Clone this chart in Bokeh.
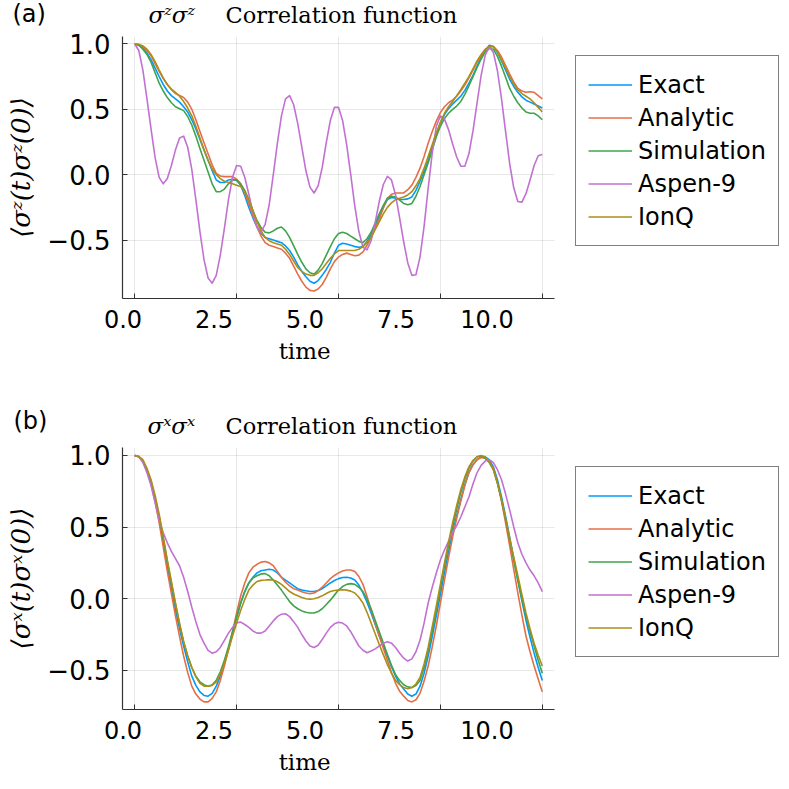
from bokeh.plotting import figure
from bokeh.models import Range1d, FixedTicker, Legend, LegendItem, Label, LinearAxis
from bokeh.layouts import column
from bokeh.embed import file_html
from bokeh.resources import INLINE

# ---------------- data ----------------
time = [0.0, 0.1, 0.2, 0.3, 0.4, 0.5, 0.6, 0.7, 0.8, 0.9,
        1.0, 1.1, 1.2, 1.3, 1.4, 1.5, 1.6, 1.7, 1.8, 1.9,
        2.0, 2.1, 2.2, 2.3, 2.4, 2.5, 2.6, 2.7, 2.8, 2.9,
        3.0, 3.1, 3.2, 3.3, 3.4, 3.5, 3.6, 3.7, 3.8, 3.9,
        4.0, 4.1, 4.2, 4.3, 4.4, 4.5, 4.6, 4.7, 4.8, 4.9,
        5.0, 5.1, 5.2, 5.3, 5.4, 5.5, 5.6, 5.7, 5.8, 5.9,
        6.0, 6.1, 6.2, 6.3, 6.4, 6.5, 6.6, 6.7, 6.8, 6.9,
        7.0, 7.1, 7.2, 7.3, 7.4, 7.5, 7.6, 7.7, 7.8, 7.9,
        8.0, 8.1, 8.2, 8.3, 8.4, 8.5, 8.6, 8.7, 8.8, 8.9,
        9.0, 9.1, 9.2, 9.3, 9.4, 9.5, 9.6, 9.7, 9.8, 9.9, 10.0]

series_names = ["Exact", "Analytic", "Simulation", "Aspen-9", "IonQ"]
series_colors = ["#009AFA", "#E36F47", "#3EA44E", "#C271D2", "#AC8E18"]

x_ticks = [0.0, 2.5, 5.0, 7.5, 10.0]
x_tick_labels = ["0.0", "2.5", "5.0", "7.5", "10.0"]
y_ticks = [-0.5, 0.0, 0.5, 1.0]
y_tick_labels = ["\u22120.5", "0.0", "0.5", "1.0"]
x_title = "time"

# panel (a): sigma^z sigma^z
zz_exact = [1.00, 0.99, 0.97, 0.93, 0.88, 0.815, 0.75, 0.69, 0.64, 0.605,
            0.58, 0.555, 0.52, 0.48, 0.42, 0.35, 0.27, 0.19, 0.11, 0.03,
            -0.04, -0.06, -0.06, -0.04, -0.035, -0.045, -0.08, -0.16, -0.25, -0.33,
            -0.40, -0.45, -0.48, -0.49, -0.50, -0.51, -0.52, -0.545, -0.58, -0.63,
            -0.69, -0.74, -0.78, -0.815, -0.83, -0.81, -0.77, -0.725, -0.67, -0.60,
            -0.54, -0.525, -0.53, -0.54, -0.55, -0.555, -0.55, -0.51, -0.46, -0.39,
            -0.32, -0.25, -0.19, -0.175, -0.18, -0.19, -0.19, -0.185, -0.17, -0.12,
            -0.05, 0.025, 0.11, 0.21, 0.31, 0.395, 0.46, 0.505, 0.54, 0.57,
            0.60, 0.645, 0.70, 0.76, 0.83, 0.895, 0.95, 0.99, 0.98, 0.935,
            0.87, 0.80, 0.73, 0.675, 0.63, 0.595, 0.57, 0.555, 0.54, 0.525, 0.51]
zz_analytic = [1.00, 0.995, 0.98, 0.95, 0.91, 0.85, 0.79, 0.735, 0.69, 0.65,
               0.62, 0.605, 0.59, 0.555, 0.50, 0.42, 0.33, 0.245, 0.16, 0.075,
               0.01, -0.01, -0.015, -0.015, -0.015, -0.035, -0.07, -0.14, -0.22, -0.315,
               -0.40, -0.47, -0.52, -0.54, -0.55, -0.56, -0.57, -0.60, -0.64, -0.70,
               -0.76, -0.815, -0.86, -0.885, -0.89, -0.875, -0.84, -0.785, -0.72, -0.665,
               -0.63, -0.61, -0.60, -0.61, -0.62, -0.615, -0.59, -0.54, -0.48, -0.41,
               -0.34, -0.255, -0.18, -0.15, -0.14, -0.14, -0.14, -0.115, -0.08, -0.02,
               0.05, 0.14, 0.24, 0.33, 0.41, 0.475, 0.52, 0.55, 0.57, 0.60,
               0.64, 0.685, 0.74, 0.80, 0.86, 0.91, 0.95, 0.975, 0.98, 0.95,
               0.90, 0.835, 0.77, 0.71, 0.66, 0.64, 0.63, 0.635, 0.63, 0.605, 0.58]
zz_simulation = [1.00, 0.99, 0.96, 0.92, 0.86, 0.78, 0.70, 0.64, 0.59, 0.55,
                 0.52, 0.505, 0.49, 0.445, 0.38, 0.295, 0.20, 0.11, 0.02, -0.07,
                 -0.13, -0.13, -0.11, -0.07, -0.04, -0.04, -0.07, -0.12, -0.19, -0.275,
                 -0.35, -0.405, -0.44, -0.445, -0.43, -0.41, -0.40, -0.43, -0.48, -0.545,
                 -0.61, -0.67, -0.72, -0.75, -0.76, -0.73, -0.68, -0.615, -0.55, -0.49,
                 -0.45, -0.44, -0.45, -0.47, -0.49, -0.51, -0.52, -0.49, -0.44, -0.37,
                 -0.30, -0.235, -0.18, -0.165, -0.17, -0.195, -0.22, -0.23, -0.22, -0.165,
                 -0.09, 0.0, 0.09, 0.19, 0.29, 0.37, 0.43, 0.47, 0.50, 0.525,
                 0.56, 0.615, 0.68, 0.75, 0.82, 0.885, 0.94, 0.965, 0.96, 0.905,
                 0.83, 0.745, 0.66, 0.60, 0.55, 0.51, 0.48, 0.47, 0.47, 0.45, 0.42]
zz_ionq = [1.00, 0.997, 0.985, 0.96, 0.92, 0.865, 0.80, 0.74, 0.69, 0.655,
           0.63, 0.60, 0.56, 0.51, 0.45, 0.37, 0.28, 0.19, 0.11, 0.045,
           0.00, -0.03, -0.05, -0.06, -0.07, -0.08, -0.09, -0.13, -0.19, -0.275,
           -0.36, -0.43, -0.48, -0.505, -0.52, -0.53, -0.54, -0.57, -0.61, -0.66,
           -0.71, -0.74, -0.76, -0.77, -0.77, -0.75, -0.72, -0.68, -0.64, -0.605,
           -0.58, -0.58, -0.58, -0.58, -0.58, -0.57, -0.55, -0.52, -0.48, -0.42,
           -0.36, -0.30, -0.25, -0.215, -0.19, -0.18, -0.17, -0.155, -0.13, -0.085,
           -0.03, 0.05, 0.14, 0.23, 0.32, 0.40, 0.47, 0.52, 0.56, 0.605,
           0.65, 0.70, 0.75, 0.81, 0.87, 0.92, 0.96, 0.98, 0.98, 0.94,
           0.88, 0.815, 0.75, 0.695, 0.65, 0.62, 0.60, 0.58, 0.55, 0.515, 0.48]
zz_aspen9 = [1.00, 0.95, 0.80, 0.58, 0.35, 0.13, -0.02, -0.07, -0.03, 0.07,
             0.19, 0.28, 0.295, 0.21, 0.04, -0.19, -0.435, -0.65, -0.79, -0.83,
             -0.77, -0.615, -0.41, -0.19, -0.02, 0.07, 0.065, -0.02, -0.15, -0.29,
             -0.40, -0.44, -0.38, -0.23, 0.00, 0.24, 0.45, 0.58, 0.605, 0.535,
             0.39, 0.21, 0.03, -0.095, -0.14, -0.085, 0.055, 0.245, 0.415, 0.515,
             0.515, 0.415, 0.23, 0.00, -0.24, -0.435, -0.555, -0.575, -0.505, -0.365,
             -0.205, -0.075, -0.012, -0.04, -0.155, -0.33, -0.515, -0.675, -0.77, -0.765,
             -0.63, -0.395, -0.105, 0.165, 0.37, 0.45, 0.425, 0.345, 0.235, 0.135,
             0.065, 0.065, 0.16, 0.335, 0.55, 0.76, 0.915, 0.98, 0.935, 0.795,
             0.58, 0.33, 0.085, -0.10, -0.205, -0.21, -0.145, -0.04, 0.07, 0.145, 0.155]

# panel (b): sigma^x sigma^x
xx_exact = [1.00, 0.99, 0.96, 0.895, 0.81, 0.69, 0.55, 0.395, 0.23, 0.075,
            -0.08, -0.21, -0.33, -0.44, -0.54, -0.605, -0.65, -0.675, -0.68, -0.66,
            -0.61, -0.54, -0.45, -0.35, -0.24, -0.13, -0.03, 0.05, 0.11, 0.15,
            0.18, 0.195, 0.20, 0.205, 0.20, 0.18, 0.15, 0.13, 0.11, 0.09,
            0.07, 0.06, 0.055, 0.05, 0.05, 0.057, 0.07, 0.09, 0.11, 0.127,
            0.14, 0.148, 0.15, 0.145, 0.13, 0.095, 0.04, -0.025, -0.10, -0.18,
            -0.26, -0.33, -0.40, -0.475, -0.54, -0.595, -0.63, -0.665, -0.68, -0.665,
            -0.61, -0.52, -0.40, -0.265, -0.12, 0.03, 0.18, 0.325, 0.46, 0.58,
            0.69, 0.795, 0.88, 0.935, 0.97, 0.99, 0.99, 0.97, 0.92, 0.83,
            0.71, 0.575, 0.43, 0.28, 0.13, -0.015, -0.15, -0.27, -0.38, -0.48, -0.57]
xx_analytic = [1.00, 0.99, 0.96, 0.89, 0.80, 0.675, 0.53, 0.36, 0.19, 0.035,
               -0.12, -0.265, -0.40, -0.515, -0.61, -0.665, -0.70, -0.72, -0.72, -0.695,
               -0.65, -0.57, -0.47, -0.355, -0.23, -0.10, 0.02, 0.11, 0.18, 0.22,
               0.24, 0.255, 0.26, 0.25, 0.23, 0.19, 0.15, 0.115, 0.09, 0.07,
               0.06, 0.048, 0.04, 0.035, 0.04, 0.057, 0.08, 0.11, 0.14, 0.162,
               0.18, 0.193, 0.20, 0.20, 0.19, 0.155, 0.10, 0.015, -0.08, -0.17,
               -0.26, -0.345, -0.43, -0.515, -0.59, -0.645, -0.68, -0.71, -0.72, -0.705,
               -0.66, -0.575, -0.47, -0.335, -0.19, -0.03, 0.13, 0.285, 0.43, 0.56,
               0.68, 0.79, 0.88, 0.935, 0.97, 0.985, 0.98, 0.955, 0.91, 0.81,
               0.68, 0.53, 0.37, 0.205, 0.04, -0.115, -0.26, -0.37, -0.47, -0.56, -0.65]
xx_simulation = [1.00, 0.99, 0.96, 0.90, 0.82, 0.70, 0.57, 0.42, 0.26, 0.11,
                 -0.04, -0.18, -0.30, -0.40, -0.48, -0.54, -0.58, -0.60, -0.61, -0.60,
                 -0.57, -0.51, -0.43, -0.335, -0.23, -0.13, -0.03, 0.05, 0.11, 0.145,
                 0.16, 0.173, 0.175, 0.16, 0.13, 0.095, 0.06, 0.02, -0.02, -0.05,
                 -0.07, -0.085, -0.095, -0.10, -0.10, -0.09, -0.07, -0.04, -0.01, 0.025,
                 0.06, 0.085, 0.10, 0.105, 0.10, 0.08, 0.05, -0.005, -0.07, -0.15,
                 -0.23, -0.31, -0.39, -0.465, -0.53, -0.57, -0.60, -0.615, -0.62, -0.605,
                 -0.57, -0.48, -0.36, -0.225, -0.08, 0.075, 0.23, 0.37, 0.50, 0.625,
                 0.74, 0.835, 0.91, 0.96, 0.99, 0.995, 0.98, 0.95, 0.90, 0.805,
                 0.69, 0.555, 0.41, 0.27, 0.13, 0.0, -0.12, -0.23, -0.33, -0.43, -0.52]
xx_ionq = [1.00, 0.993, 0.97, 0.91, 0.83, 0.72, 0.59, 0.435, 0.27, 0.12,
           -0.03, -0.17, -0.30, -0.40, -0.48, -0.545, -0.59, -0.61, -0.61, -0.605,
           -0.58, -0.525, -0.45, -0.36, -0.26, -0.17, -0.08, -0.005, 0.06, 0.095,
           0.12, 0.128, 0.13, 0.133, 0.13, 0.118, 0.10, 0.075, 0.05, 0.033,
           0.02, 0.008, 0.0, -0.003, 0.0, 0.008, 0.02, 0.036, 0.05, 0.057,
           0.06, 0.062, 0.06, 0.053, 0.04, 0.01, -0.03, -0.095, -0.17, -0.245,
           -0.32, -0.39, -0.46, -0.52, -0.57, -0.60, -0.62, -0.628, -0.62, -0.595,
           -0.55, -0.455, -0.34, -0.195, -0.05, 0.10, 0.25, 0.395, 0.53, 0.65,
           0.76, 0.85, 0.92, 0.965, 0.99, 1.0, 0.99, 0.955, 0.90, 0.805,
           0.69, 0.56, 0.42, 0.29, 0.16, 0.03, -0.10, -0.21, -0.31, -0.395, -0.47]
xx_aspen9 = [1.00, 0.99, 0.95, 0.88, 0.79, 0.67, 0.55, 0.46, 0.39, 0.33,
             0.28, 0.23, 0.15, 0.05, -0.06, -0.16, -0.25, -0.31, -0.36, -0.38,
             -0.37, -0.34, -0.29, -0.24, -0.20, -0.17, -0.163, -0.18, -0.20, -0.225,
             -0.24, -0.24, -0.225, -0.19, -0.155, -0.125, -0.108, -0.105, -0.125, -0.16,
             -0.20, -0.25, -0.295, -0.33, -0.34, -0.325, -0.285, -0.24, -0.20, -0.175,
             -0.165, -0.17, -0.19, -0.23, -0.28, -0.33, -0.36, -0.377, -0.365, -0.35,
             -0.33, -0.31, -0.30, -0.31, -0.34, -0.38, -0.415, -0.435, -0.42, -0.37,
             -0.29, -0.17, -0.03, 0.08, 0.18, 0.27, 0.34, 0.40, 0.46, 0.51,
             0.57, 0.64, 0.71, 0.80, 0.88, 0.93, 0.96, 0.97, 0.95, 0.90,
             0.83, 0.73, 0.62, 0.50, 0.39, 0.31, 0.25, 0.20, 0.16, 0.11, 0.05]

# ---------------- layout (pixels) ----------------
W = 788
FRAME_LEFT, FRAME_W, FRAME_H = 122, 432, 262
XLO, XHI = -0.3, 10.3
# the tick labels of the reference sit on a slightly compressed scale
LAB_LEFT_PX, LAB_PX_PER_UNIT = 0.5, 36.4
ULO = -LAB_LEFT_PX / LAB_PX_PER_UNIT
UHI = (FRAME_W - LAB_LEFT_PX) / LAB_PX_PER_UNIT
TIME_U = 4.99
SANS = "DejaVu Sans"
SERIF = "DejaVu Serif"


def text_strip(height, entries):
    t = figure(width=W, height=height, x_range=Range1d(0, W), y_range=Range1d(height, 0),
               x_axis_location=None, y_axis_location=None, min_border=0, title=None,
               frame_align=False, output_backend="svg", toolbar_location=None)
    t.outline_line_color = None
    t.grid.visible = False
    t.background_fill_color = "white"
    t.border_fill_color = "white"
    for x, y, txt, font, style, size in entries:
        t.add_layout(Label(x=x, y=y, text=txt, text_align="left", text_baseline="alphabetic",
                           text_font=font, text_font_style=style, text_font_size=size,
                           text_color="black"))
    return t


def make_panel(ylabel, ys, ylo, yhi, border_top, border_bottom):
    p = figure(frame_width=FRAME_W, frame_height=FRAME_H,
               x_range=Range1d(XLO, XHI), y_range=Range1d(ylo, yhi),
               min_border_left=FRAME_LEFT, min_border_right=W - FRAME_LEFT - FRAME_W,
               min_border_top=border_top, min_border_bottom=border_bottom, title=None,
               frame_align=False, output_backend="svg", toolbar_location=None)
    p.outline_line_color = None
    p.background_fill_color = "white"
    p.border_fill_color = "white"

    for ax in (p.xaxis[0], p.yaxis[0]):
        ax.axis_line_color = "#333333"
        ax.axis_line_width = 1.2
        ax.major_tick_line_color = "#333333"
        ax.major_tick_line_width = 1.0
        ax.major_tick_in = 5
        ax.major_tick_out = 0
        ax.minor_tick_line_color = None
    # real x axis: ticks only
    p.xaxis.ticker = FixedTicker(ticks=x_ticks)
    p.xaxis.major_label_overrides = {t: "" for t in x_ticks}
    p.xaxis.major_label_text_font_size = "1px"
    p.xaxis.major_label_standoff = 0
    # y axis
    p.yaxis.ticker = FixedTicker(ticks=y_ticks)
    p.yaxis.major_label_overrides = dict(zip(y_ticks, y_tick_labels))
    p.yaxis.major_label_text_font = SANS
    p.yaxis.major_label_text_font_size = "26px"
    p.yaxis.major_label_text_color = "black"
    p.yaxis.major_label_standoff = 12
    p.yaxis.axis_label = ylabel
    p.yaxis.axis_label_text_font = SERIF
    p.yaxis.axis_label_text_font_style = "italic"
    p.yaxis.axis_label_text_font_size = "26px"
    p.yaxis.axis_label_text_color = "black"
    p.yaxis.axis_label_standoff = 8

    for g in (p.xgrid[0], p.ygrid[0]):
        g.grid_line_color = "black"
        g.grid_line_alpha = 0.09
        g.grid_line_width = 1

    # x tick labels and x title, on the reference's compressed label scale
    p.extra_x_ranges = {"xlab": Range1d(ULO, UHI)}
    lab_axis = LinearAxis(x_range_name="xlab", ticker=FixedTicker(ticks=x_ticks),
                          major_label_overrides=dict(zip(x_ticks, x_tick_labels)))
    time_axis = LinearAxis(x_range_name="xlab", ticker=FixedTicker(ticks=[TIME_U]),
                           major_label_overrides={TIME_U: x_title})
    for ax, font, size, standoff in ((lab_axis, SANS, "24px", 11), (time_axis, SERIF, "23px", 7)):
        ax.axis_line_color = None
        ax.major_tick_line_color = None
        ax.minor_tick_line_color = None
        ax.major_tick_in = 0
        ax.major_tick_out = 0
        ax.major_label_text_font = font
        ax.major_label_text_font_size = size
        ax.major_label_text_color = "black"
        ax.major_label_standoff = standoff
        p.add_layout(ax, "below")

    # lines
    items = []
    for name, color, yv in zip(series_names, series_colors, ys):
        r = p.line(time, yv, line_color=color, line_width=1.6, line_join="round")
        items.append(LegendItem(label=name, renderers=[r]))

    legend = Legend(items=items, location=(21, 52))
    legend.border_line_color = "black"
    legend.border_line_width = 1
    legend.background_fill_color = "white"
    legend.background_fill_alpha = 1.0
    legend.padding = 12
    legend.spacing = 0
    legend.margin = 0
    legend.glyph_width = 44
    legend.glyph_height = 33
    legend.label_height = 33
    legend.label_standoff = 6
    legend.label_text_font = SANS
    legend.label_text_font_size = "24px"
    legend.label_text_color = "black"
    p.add_layout(legend, "right")
    return p


t1 = text_strip(30, [(12, 13.5, "(a)", SANS, "normal", "24px"),
                     (148, 14.5, "\u03c3\u1dbb\u03c3\u1dbb", SERIF, "italic", "23px"),
                     (225, 14.5, "Correlation function", SERIF, "normal", "22.5px")])
p1 = make_panel("\u27e8\u03c3\u1dbb(t)\u03c3\u1dbb(0)\u27e9",
                [zz_exact, zz_analytic, zz_simulation, zz_aspen9, zz_ionq],
                -0.947, 1.057, 6, 102)
t2 = text_strip(40, [(13, 20.0, "(b)", SANS, "normal", "24px"),
                     (147, 25.0, "\u03c3\u02e3\u03c3\u02e3", SERIF, "italic", "23px"),
                     (225, 25.0, "Correlation function", SERIF, "normal", "22.5px")])
p2 = make_panel("\u27e8\u03c3\u02e3(t)\u03c3\u02e3(0)\u27e9",
                [xx_exact, xx_analytic, xx_simulation, xx_aspen9, xx_ionq],
                -0.773, 1.055, 7, 79)

layout = column(t1, p1, t2, p2, spacing=0)
open("out.html", "w").write(file_html(layout, INLINE))
